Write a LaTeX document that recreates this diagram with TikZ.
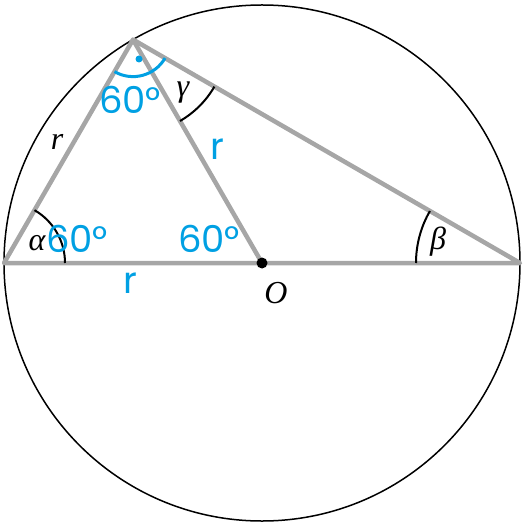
\documentclass[tikz,border=0pt]{standalone}
\usepackage{fontspec}
\newfontfamily\handfont{Poppins}
\newfontfamily\labfont{Liberation Serif}
\usepackage{tikz}
\usetikzlibrary{calc}
\definecolor{lgray}{RGB}{166,166,166}
\definecolor{hblue}{RGB}{0,160,227}
\begin{document}
\begin{tikzpicture}[x=1pt,y=-1pt,
  seg/.style={draw=lgray,line width=4.5pt},
  rim/.style={draw=black,line width=1.5pt},
  anglearc/.style={draw=black,line width=2pt},
  bluearc/.style={draw=hblue,line width=3pt},
  lab/.style={font=\labfont\itshape\fontsize{32}{36}\selectfont,inner sep=0pt},
  hand/.style={text=hblue,font=\handfont\fontsize{37}{40}\selectfont,inner sep=0pt}]
\useasboundingbox (0,0) rectangle (526,526);
\coordinate (O) at (262,263);
\coordinate (A) at (4,263);
\coordinate (B) at (520,263);
\coordinate (C) at (133,39.6);
\draw[rim] (O) circle (258);
\draw[seg,line join=round] (A) -- (C) -- (B) -- cycle;
\draw[seg] (C) -- (O);
% angle arcs
\draw[anglearc] ($(A)+(61,0)$) arc[start angle=0,end angle=-60,radius=61];
\draw[anglearc] ($(B)+(-104,0)$) arc[start angle=180,end angle=210,radius=104];
\draw[anglearc] ($(C)+(60:94)$) arc[start angle=60,end angle=30,radius=94];
\draw[bluearc] ($(C)+(120:37)$) arc[start angle=120,end angle=30,radius=37];
\fill[hblue] (139,59) circle (3.5);
\fill[black] (O) circle (5.5);
% labels
\node[lab] (alpha) at (37,243) {α};
\node[lab] (beta) at (438,242) {β};
\node[lab] (gamma) at (183,93) {γ};
\node[lab] (r) at (57,142) {r};
\node[lab] (Olab) at (276,293) {O};
\node[hand] (t1) at (130,100) {60°};
\node[hand] (t2) at (77,239) {60°};
\node[hand] (t3) at (209,239) {60°};
\node[hand] (r1) at (217,149) {r};
\node[hand] (r2) at (130,283) {r};
\end{tikzpicture}
\end{document}
